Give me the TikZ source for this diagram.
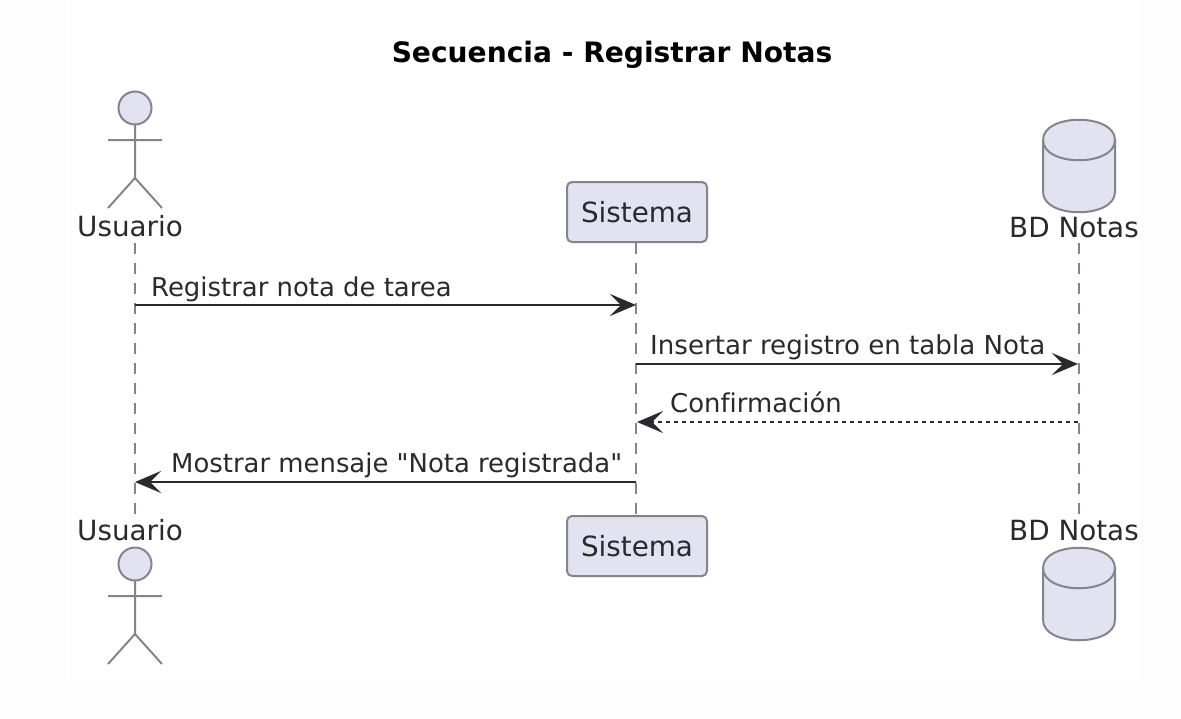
\documentclass[tikz,border=0pt]{standalone}
\usepackage{fontspec}
\setmainfont{DejaVu Sans}
\newfontfamily\plainfam{DejaVu Sans}[Ligatures=NoCommon]
\usetikzlibrary{arrows.meta}
\definecolor{pfill}{HTML}{E2E2F0}
\definecolor{pline}{HTML}{85848C}
\definecolor{ink}{HTML}{2A2A2E}
\definecolor{band}{HTML}{FDFDFD}
\tikzset{
  x=1pt,y=-1pt,
  lbl/.style={inner sep=0pt,text=ink,font=\plainfam\fontsize{27.8}{32}\selectfont,anchor=base},
  mlbl/.style={inner sep=0pt,text=ink,font=\plainfam\fontsize{25.9}{32}\selectfont,anchor=base west},
  ttl/.style={inner sep=0pt,text=black,font=\plainfam\fontsize{28.1}{32}\bfseries\selectfont,anchor=base},
  part/.style={draw=pline,fill=pfill,line width=2pt,rounded corners=5pt,minimum width=140pt,minimum height=60pt,inner sep=0pt,text=ink,font=\plainfam\fontsize{27.8}{32}\selectfont},
  shapeline/.style={draw=pline,fill=pfill,line width=2pt},
  stick/.style={draw=pline,line width=2pt},
  life/.style={draw=pline,line width=1.8pt,dash pattern=on 11pt off 9pt},
  msg/.style={draw=ink,line width=2.2pt,-{Stealth[length=26pt,width=22pt,inset=11pt,fill=ink]}},
  msgd/.style={msg,line width=1.8pt,dash pattern=on 4pt off 4pt},
}
\newcommand{\stickman}[2]{%
  \draw[shapeline] (#1,#2) circle[radius=16.5];
  \draw[stick] (#1,#2+16.5) -- (#1,#2+70) (#1-27,#2+32) -- (#1+27,#2+32)
    (#1-27,#2+100) -- (#1,#2+70) -- (#1+27,#2+100);
}
\newcommand{\dbshape}[2]{%
  \draw[shapeline] (#1-36,#2+20) .. controls (#1-36,#2-7) and (#1+36,#2-7) .. (#1+36,#2+20)
    -- (#1+36,#2+72) .. controls (#1+36,#2+99) and (#1-36,#2+99) .. (#1-36,#2+72) -- cycle;
  \draw[stick] (#1-36,#2+20) .. controls (#1-36,#2+47) and (#1+36,#2+47) .. (#1+36,#2+20);
}
\begin{document}
\begin{tikzpicture}
\useasboundingbox (0,0) rectangle (1181,718);
\fill[band] (0,0) rectangle (1181,718);
\fill[white] (67,0) rectangle (1140,680);
\node[ttl] (title) at (612,62) {Secuencia - Registrar Notas};

% lifeline ends
\coordinate (uT) at (135,243);
\coordinate (uB) at (135,515);
\coordinate (sT) at (636,243);
\coordinate (sB) at (636,515);
\coordinate (dT) at (1079,243);
\coordinate (dB) at (1079,515);
\draw[life] (uT) -- (uB);
\draw[life] (sT) -- (sB);
\draw[life] (dT) -- (dB);

% participants
\stickman{135}{108}
\node[lbl] (uTop) at (130,236) {Usuario};
\node[part] (sTop) at (637,212) {Sistema};
\dbshape{1079}{120}
\node[lbl] (dTop) at (1074,237) {BD Notas};

\node[lbl] (uBot) at (130,540) {Usuario};
\stickman{135}{564}
\node[part] (sBot) at (637,546) {Sistema};
\node[lbl] (dBot) at (1074,540) {BD Notas};
\dbshape{1079}{548}

% message anchors
\coordinate (m1a) at (135,305);
\coordinate (m1b) at (636,305);
\coordinate (m2a) at (636,364);
\coordinate (m2b) at (1078,364);
\coordinate (m3a) at (1078,422);
\coordinate (m3b) at (637,422);
\coordinate (m4a) at (636,482);
\coordinate (m4b) at (135,482);

\draw[msg] (m1a) -- (m1b);
\draw[msg] (m2a) -- (m2b);
\draw[msgd] (m3a) -- (m3b);
\draw[msg] (m4a) -- (m4b);

\node[mlbl] (l1) at (151,296) {Registrar nota de tarea};
\node[mlbl,font=\plainfam\fontsize{26.1}{32}\selectfont] (l2) at (650,354) {Insertar registro en tabla Nota};
\node[mlbl] (l3) at (670,412) {Confirmación};
\node[mlbl] (l4) at (171,472) {Mostrar mensaje "Nota registrada"};
\end{tikzpicture}
\end{document}
